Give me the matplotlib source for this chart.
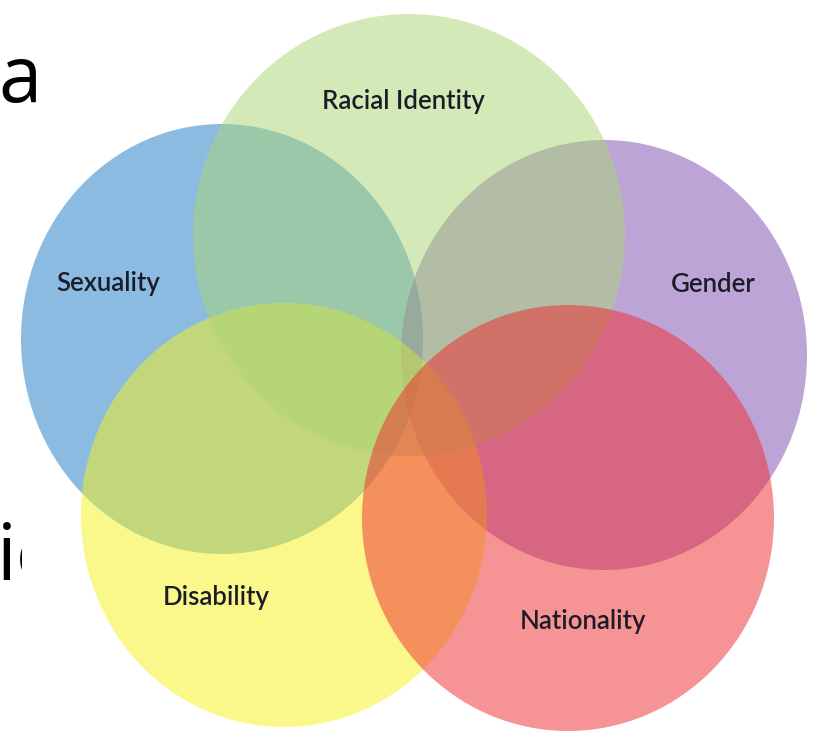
import matplotlib
matplotlib.use("Agg")
import matplotlib.pyplot as plt
from matplotlib.patches import Ellipse, Rectangle

# labels of the five identity sets
labels = ["Sexuality", "Gender", "Disability", "Racial Identity", "Nationality"]

# layout (pixel units of the original slide), same order as labels
centres = [(222, 339), (604, 355), (284, 515), (409, 235), (568, 518)]
radii = [(201, 215), (203, 215), (203, 212), (216, 221), (206, 213)]
colours = ["#1B79C5", "#7D4BAF", "#F9F319", "#ABD573", "#EF292D"]
label_pos = [(108, 284), (713, 284), (216, 598), (403, 101), (583, 622)]

fig = plt.figure(figsize=(8.16, 7.36), dpi=100)
ax = fig.add_axes([0, 0, 1, 1])
ax.set_xlim(0, 816)
ax.set_ylim(736, 0)
ax.axis("off")

# slide text peeking out behind the picture
ax.text(-2, 102, "a", fontsize=56, family="Open Sans", color="black",
        ha="left", va="baseline", zorder=1)
ax.text(-3, 580, "ie", fontsize=56, family="Open Sans", color="black",
        ha="left", va="baseline", zorder=1)
# white picture background hides the rest of the word
ax.add_patch(Rectangle((22, 490), 120, 110, facecolor="white",
                       edgecolor="none", zorder=1.5))

for (cx, cy), (rx, ry), c in zip(centres, radii, colours):
    ax.add_patch(Ellipse((cx, cy), 2 * rx, 2 * ry, facecolor=c,
                         edgecolor="none", alpha=0.5, zorder=2))

for name, (x, y) in zip(labels, label_pos):
    ax.text(x, y, name, fontsize=18.5, family="Lato", fontweight="semibold",
            color="#1c1c28", ha="center", va="center", zorder=5)

fig.savefig("out.png", dpi=100, facecolor="white")
